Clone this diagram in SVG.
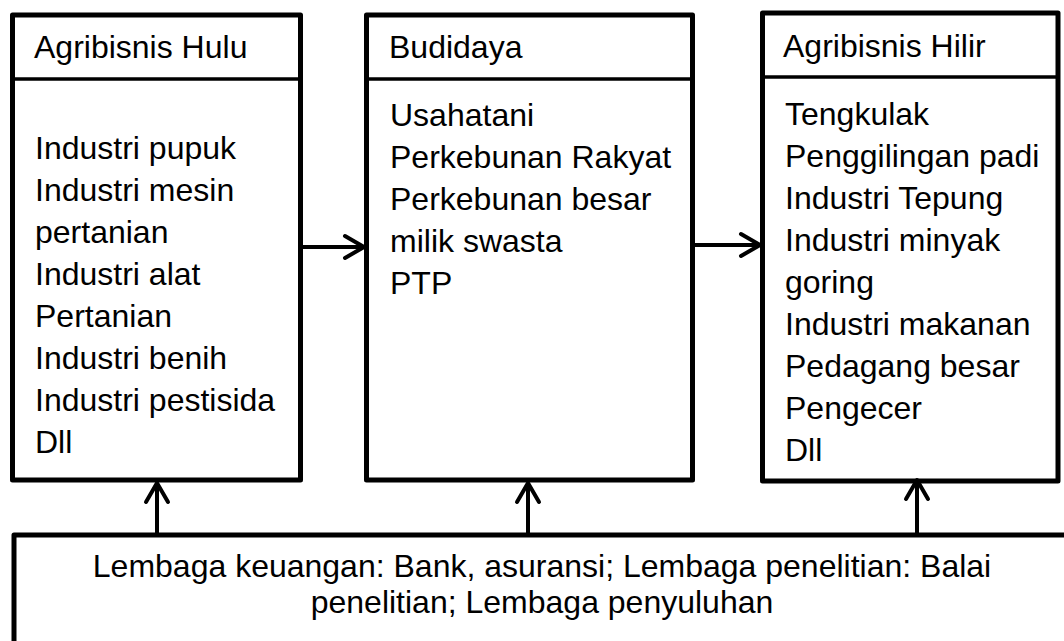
<svg xmlns="http://www.w3.org/2000/svg" width="1064" height="641" viewBox="0 0 1064 641">
<style>
.box{fill:#fff;stroke:#000;stroke-width:5;stroke-linejoin:round}
.div{stroke:#000;stroke-width:3.5}
.t{font-family:"Liberation Sans",Arial,sans-serif;font-size:32px;fill:#000}
.c{stroke:#000;stroke-width:4;fill:none}
</style>
<defs>
<marker id="arr" viewBox="-25 -15 30 30" refX="0" refY="0" markerWidth="30" markerHeight="30" markerUnits="userSpaceOnUse" orient="auto">
<path d="M-19,-11 L0,0 L-19,11" fill="none" stroke="#000" stroke-width="4" stroke-linecap="round" stroke-linejoin="round"/>
</marker>
</defs>
<rect width="1064" height="641" fill="#fff"/>
<g id="hulu">
<rect class="box" x="12.5" y="15" width="288" height="465"/>
<line class="div" x1="12.5" y1="79" x2="300.5" y2="79"/>
<text class="t" x="34" y="58">Agribisnis Hulu</text>
<text class="t" x="35" y="159">Industri pupuk</text>
<text class="t" x="35" y="201">Industri mesin</text>
<text class="t" x="35" y="243">pertanian</text>
<text class="t" x="35" y="285">Industri alat</text>
<text class="t" x="35" y="327">Pertanian</text>
<text class="t" x="35" y="369">Industri benih</text>
<text class="t" x="35" y="411">Industri pestisida</text>
<text class="t" x="35" y="453">Dll</text>
</g>
<g id="budidaya">
<rect class="box" x="366.5" y="15" width="326" height="465"/>
<line class="div" x1="366.5" y1="79" x2="692.5" y2="79"/>
<text class="t" x="389" y="58">Budidaya</text>
<text class="t" x="390" y="126">Usahatani</text>
<text class="t" x="390" y="168">Perkebunan Rakyat</text>
<text class="t" x="390" y="210">Perkebunan besar</text>
<text class="t" x="390" y="252">milik swasta</text>
<text class="t" x="390" y="294">PTP</text>
</g>
<g id="hilir">
<rect class="box" x="762.5" y="13" width="295.5" height="468"/>
<line class="div" x1="762.5" y1="77" x2="1058" y2="77"/>
<text class="t" x="783" y="57">Agribisnis Hilir</text>
<text class="t" x="785" y="125">Tengkulak</text>
<text class="t" x="785" y="167">Penggilingan padi</text>
<text class="t" x="785" y="209">Industri Tepung</text>
<text class="t" x="785" y="251">Industri minyak</text>
<text class="t" x="785" y="293">goring</text>
<text class="t" x="785" y="335">Industri makanan</text>
<text class="t" x="785" y="377">Pedagang besar</text>
<text class="t" x="785" y="419">Pengecer</text>
<text class="t" x="785" y="461">Dll</text>
</g>
<g id="lembaga">
<rect class="box" x="14" y="535" width="1070" height="200"/>
<text class="t" x="542" y="577" text-anchor="middle">Lembaga keuangan: Bank, asuransi; Lembaga penelitian: Balai</text>
<text class="t" x="542" y="613" text-anchor="middle">penelitian; Lembaga penyuluhan</text>
</g>
<g id="connectors">
<line class="c" x1="303" y1="247" x2="364" y2="247" marker-end="url(#arr)"/>
<line class="c" x1="695" y1="245" x2="760" y2="245" marker-end="url(#arr)"/>
<line class="c" x1="157" y1="533" x2="157" y2="483" marker-end="url(#arr)"/>
<line class="c" x1="528" y1="533" x2="528" y2="483" marker-end="url(#arr)"/>
<line class="c" x1="917" y1="533" x2="917" y2="480" marker-end="url(#arr)"/>
</g>
</svg>
